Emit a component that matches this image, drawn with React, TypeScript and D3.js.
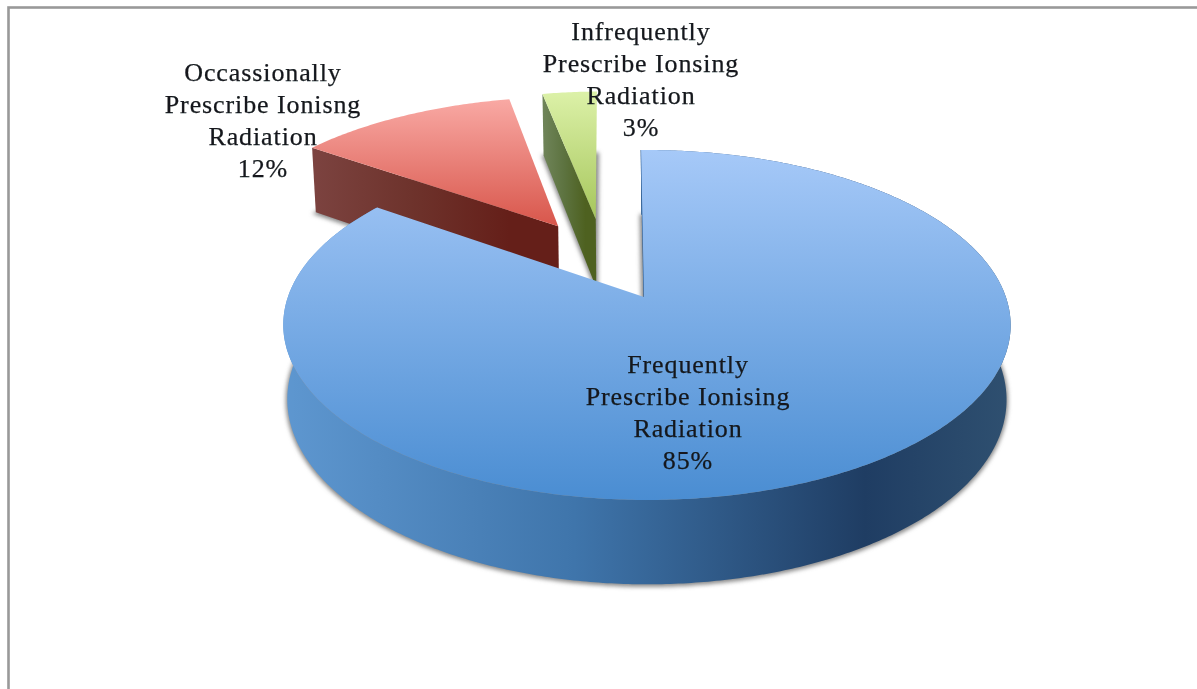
import React from "react";
import * as d3 from "d3";

const categories = ["Frequently", "Occassionally", "Infrequently"];
const values = [85, 12, 3];
const labelLines = [
  ["Frequently", "Prescribe Ionising", "Radiation", "85%"],
  ["Occassionally", "Prescribe Ionisng", "Radiation", "12%"],
  ["Infrequently", "Prescribe Ionsing", "Radiation", "3%"],
];
const labelPos = [
  [688, 373],
  [263, 81],
  [641, 40],
];
const explode = [
  [0.008, 0],
  [-0.256, 0.445],
  [-0.145, 0.493],
];
const topColors = [
  ["#a6c9f8", "#4a8dd2"],
  ["#f9a9a4", "#d8564b"],
  ["#dcf1a8", "#a6c65c"],
];
const sideColors = [
  ["#5e97d0", "#3f75ab", "#1f3d63", "#2f5070"],
  ["#7c4340", "#6e332c", "#651f19", "#651f19"],
  ["#70855a", "#5d7340", "#4e6120", "#4e6120"],
];

const K = 0.16;
const upper = { cx: 644, cy: 297, rx: 359, ry: 170.5 };
const lower = { cx: 644, cy: 370, rx: 355, ry: 180 };
type Plane = typeof upper;

function project(p: Plane, u: number, v: number): [number, number] {
  const f = 1 / (1 + K * v);
  const x = d3.scaleLinear().domain([-1, 1]).range([p.cx - p.rx, p.cx + p.rx]);
  const y = d3.scaleLinear().domain([-1, 1]).range([p.cy + p.ry, p.cy - p.ry]);
  return [x(u * f), y(v * f)];
}

const rot = -1 * (Math.PI / 180);
const arcs = d3
  .pie<number>()
  .sort(null)
  .startAngle(rot)
  .endAngle(2 * Math.PI + rot)(values);

const line = d3.line();

function rim(p: Plane, i: number, a0: number, a1: number) {
  const n = Math.max(4, Math.ceil((a1 - a0) / 0.01));
  const [ou, ov] = explode[i];
  return d3
    .range(n + 1)
    .map((k) => a0 + ((a1 - a0) * k) / n)
    .map((a) => project(p, ou + Math.sin(a), ov + Math.cos(a)));
}
function apex(p: Plane, i: number) {
  return i === 0
    ? project(p, 0, 0)
    : project(p, explode[i][0], explode[i][1]);
}
function wedge(p: Plane, i: number) {
  const a = arcs[i];
  return line([apex(p, i), ...rim(p, i, a.startAngle, a.endAngle)])! + "Z";
}
function band(i: number) {
  const a = arcs[i];
  const top = rim(upper, i, a.startAngle, a.endAngle);
  const bot = rim(lower, i, a.startAngle, a.endAngle).reverse();
  return line([...top, ...bot])! + "Z";
}
function wall(i: number, angle: number) {
  const [ou, ov] = explode[i];
  const s = Math.sin(angle);
  const c = Math.cos(angle);
  return (
    line([
      apex(upper, i),
      project(upper, ou + s, ov + c),
      project(lower, ou + s, ov + c),
      apex(lower, i),
    ])! + "Z"
  );
}

const font = "'Liberation Serif', serif";

export default function App() {
  return (
    <svg
      width={1197}
      height={689}
      style={{ position: "absolute", left: 0, top: 0, background: "#fff" }}
    >
      <defs>
        <filter id="soft" x="-10%" y="-10%" width="120%" height="120%">
          <feGaussianBlur stdDeviation="2" />
        </filter>
        <filter id="txt" x="-5%" y="-5%" width="110%" height="110%">
          <feGaussianBlur stdDeviation="0.35" />
        </filter>
        {categories.map((c, i) => (
          <linearGradient key={c} id={`top${i}`} x1="0" x2="0" y1="0" y2="1">
            <stop offset="0" stopColor={topColors[i][0]} />
            <stop offset="1" stopColor={topColors[i][1]} />
          </linearGradient>
        ))}
        {categories.map((c, i) => (
          <linearGradient key={c} id={`side${i}`} x1="0" x2="1" y1="0" y2="0">
            <stop offset="0" stopColor={sideColors[i][0]} />
            <stop offset="0.4" stopColor={sideColors[i][1]} />
            <stop offset="0.8" stopColor={sideColors[i][2]} />
            <stop offset="1" stopColor={sideColors[i][3]} />
          </linearGradient>
        ))}
      </defs>

      <rect x={8.5} y={7.5} width={1300} height={800} fill="none" stroke="#999" strokeWidth={2.6} />

      <g filter="url(#soft)" transform="translate(0,1)">
        {categories.map((c, i) => (
          <path key={c} d={wedge(lower, i)} fill="#888" stroke="#888" strokeWidth={3} />
        ))}
      </g>

      <path d={wall(1, arcs[1].startAngle)} fill="url(#side1)" />
      <path d={wedge(upper, 1)} fill="url(#top1)" />
      <path d={wall(2, arcs[2].startAngle)} fill="url(#side2)" />
      <path d={wedge(upper, 2)} fill="url(#top2)" />

      <path d={band(0)} fill="url(#side0)" />
      <path
        d={line([apex(upper, 0), project(upper, explode[0][0] + Math.sin(rot), Math.cos(rot))])!}
        stroke="#2f5f94"
        strokeWidth={1.2}
        fill="none"
      />
      <path d={wedge(upper, 0)} fill="url(#top0)" />

      <g
        fontFamily={font}
        fontSize={26}
        letterSpacing={0.9}
        fill="#14181c"
        stroke="#14181c"
        strokeWidth={0.25}
        textAnchor="middle"
        filter="url(#txt)"
      >
        {labelLines.map((lines, i) => (
          <text key={categories[i]} x={labelPos[i][0]} y={labelPos[i][1]}>
            {lines.map((t, j) => (
              <tspan key={j} x={labelPos[i][0]} dy={j === 0 ? 0 : 32}>
                {t}
              </tspan>
            ))}
          </text>
        ))}
      </g>
    </svg>
  );
}
